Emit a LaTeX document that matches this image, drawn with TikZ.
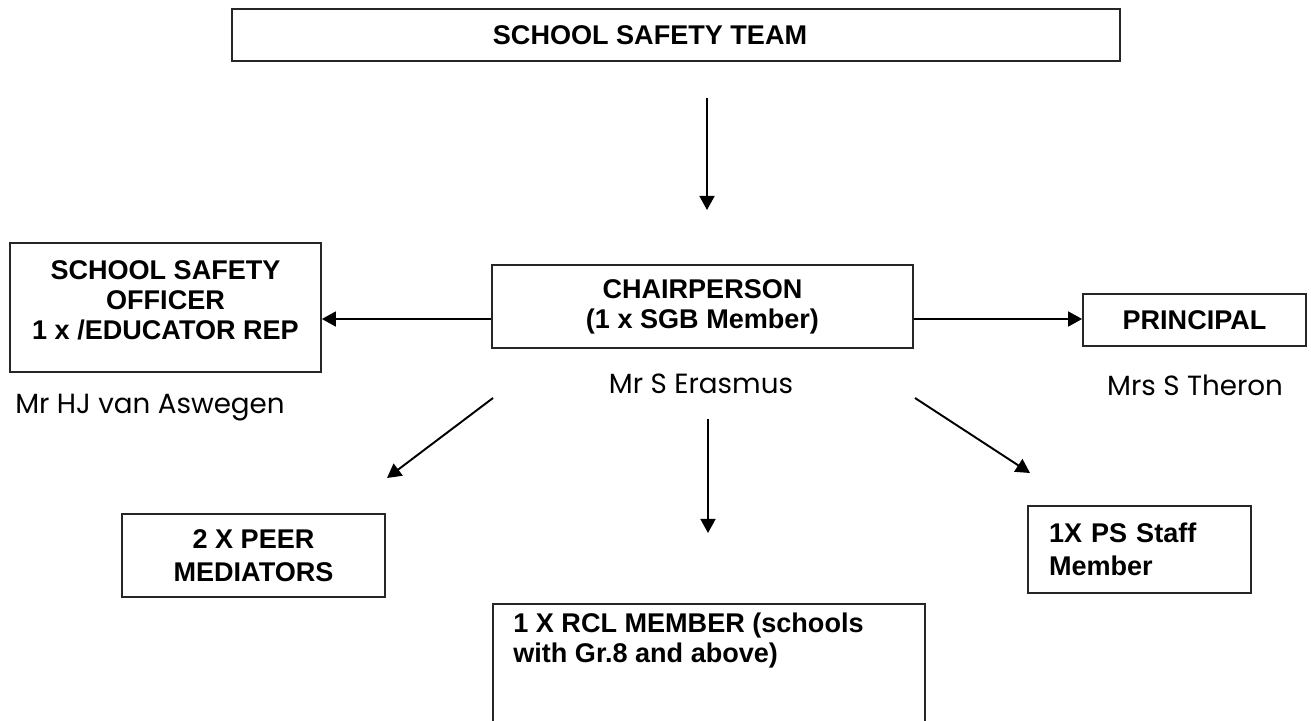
\documentclass[tikz,border=0pt]{standalone}
\usepackage{fontspec}
\setmainfont{Liberation Sans}
\newfontfamily\namefont{Poppins}
\usetikzlibrary{arrows.meta}

\tikzset{
    box/.style={draw=black!85, line width=1pt, inner sep=0pt},
    boxtext/.style={font=\bfseries\fontsize{15.4}{17}\selectfont, inner sep=0pt},
    person/.style={font=\namefont\fontsize{15.8}{18}\selectfont, inner sep=0pt, anchor=base},
    arr/.style={line width=1.1pt, -{Triangle[length=8pt,width=8.5pt]}}
}

\begin{document}
\begin{tikzpicture}[x=0.02cm, y=-0.02cm]
    \clip (0,0) rectangle (1311,720);

    % Kopf
    \node[box, minimum width=17.76cm, minimum height=1.04cm,
          label={[boxtext, xshift=-0.52cm]center:SCHOOL SAFETY TEAM}] (team) at (676,35) {};

    % mittlere Reihe
    \node[box, boxtext, minimum width=8.42cm, minimum height=1.66cm, align=center]
        (chair) at (702.5,306.5) {CHAIRPERSON\\(1 x SGB Member)};
    \node[box, minimum width=6.22cm, minimum height=2.58cm,
          label={[boxtext, align=center, yshift=0.15cm]center:{SCHOOL SAFETY\\OFFICER\\1 x /EDUCATOR REP}}]
        (officer) at (165.5,307.5) {};
    \node[box, boxtext, minimum width=4.46cm, minimum height=1.04cm]
        (principal) at (1194.5,320) {PRINCIPAL};

    % Namen
    \node[person] (erasmus) at (701,393) {Mr S Erasmus};
    \node[person] (aswegen) at (150,413) {Mr HJ van Aswegen};
    \node[person] (theron) at (1195,395) {Mrs S Theron};

    % untere Reihe
    \node[box, boxtext, minimum width=5.26cm, minimum height=1.66cm, align=center,
          font=\bfseries\fontsize{15.4}{18.5}\selectfont]
        (peer) at (253.5,555.5) {2 X PEER\\MEDIATORS};
    \node[box, boxtext, text width=3.62cm, inner xsep=0.42cm, minimum height=1.74cm, align=left,
          font=\bfseries\fontsize{15.4}{18.5}\selectfont]
        (staff) at (1139.5,549.5) {1X PS Staff\\Member};
    \node[box, anchor=north, minimum width=8.64cm, minimum height=2.6cm] (rcl) at (709,603) {};
    \node[boxtext, anchor=north west, align=left] (rcltext) at (513,613)
        {1 X RCL MEMBER (schools\\with Gr.8 and above)};

    % Pfeile
    \coordinate (top1) at (707,98);
    \coordinate (top2) at (707,210);
    \coordinate (mid) at (0,319);
    \coordinate (dl1) at (493,398);
    \coordinate (dl2) at (387,478);
    \coordinate (dm1) at (708,419);
    \coordinate (dm2) at (708,533);
    \coordinate (dr1) at (915,398);
    \coordinate (dr2) at (1030,473);

    \draw[arr] (top1) -- (top2);
    \draw[arr] (chair.west |- mid) -- (officer.east |- mid);
    \draw[arr] (chair.east |- mid) -- (principal.west |- mid);
    \draw[arr] (dl1) -- (dl2);
    \draw[arr] (dm1) -- (dm2);
    \draw[arr] (dr1) -- (dr2);
\end{tikzpicture}
\end{document}
